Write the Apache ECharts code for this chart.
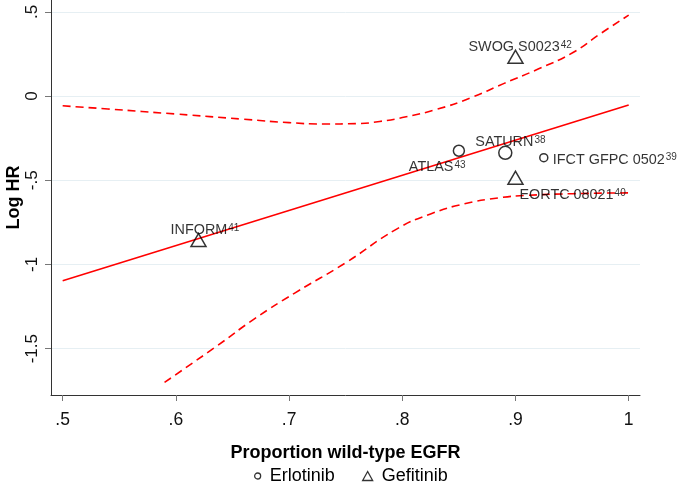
<!DOCTYPE html>
<html><head><meta charset="utf-8">
<script src="https://cdn.jsdelivr.net/npm/echarts@6/dist/echarts.min.js"></script>
<style>html,body{margin:0;padding:0;background:#fff}#c{width:679px;height:487px}</style>
</head><body><div id="c"></div>
<script>
// ---- data ----
const erlotinibStudies = ['ATLAS', 'SATURN', 'IFCT GFPC 0502'];
const erlotinibRefs = ['43', '38', '39'];
const erlotinibX = [0.850, 0.891, 0.925];
const erlotinibY = [-0.325, -0.337, -0.366];

const gefitinibStudies = ['SWOG S0023', 'EORTC 08021', 'INFORM'];
const gefitinibRefs = ['42', '40', '41'];
const gefitinibX = [0.900, 0.900, 0.620];
const gefitinibY = [0.233, -0.485, -0.855];

const fitX = [0.5, 1.0];
const fitY = [-1.097, -0.053];

const ciUpperX = [0.5, 0.54, 0.6, 0.66, 0.7, 0.73, 0.76, 0.78, 0.8, 0.83, 0.86, 0.89, 0.92, 0.95, 0.975, 1.0];
const ciUpperY = [-0.058, -0.077, -0.107, -0.138, -0.158, -0.166, -0.164, -0.151, -0.128, -0.080, -0.012, 0.075, 0.160, 0.255, 0.370, 0.480];

const ciLowerX = [0.59, 0.635, 0.67, 0.705, 0.75, 0.795, 0.825, 0.855, 0.885, 0.91, 0.95, 1.0];
const ciLowerY = [-1.700, -1.490, -1.320, -1.170, -0.990, -0.790, -0.700, -0.640, -0.605, -0.590, -0.580, -0.575];

const xTicks = [0.5, 0.6, 0.7, 0.8, 0.9, 1.0];
const xTickLabels = ['.5', '.6', '.7', '.8', '.9', '1'];
const yTicks = [0.5, 0, -0.5, -1, -1.5];
const yTickLabels = ['.5', '0', '-.5', '-1', '-1.5'];

// ---- styles (not data) ----
const FONT = 'Liberation Sans, Arial, Helvetica, sans-serif';
const RED = '#ff0000';
const markerStyle = {
  'ATLAS': {size: 11, offset: [-50, 16]},
  'SATURN': {size: 13, offset: [-30, -11]},
  'IFCT GFPC 0502': {size: 8, offset: [9, 2]},
  'SWOG S0023': {size: [15, 13], offset: [-47, -10]},
  'EORTC 08021': {size: [15, 13], offset: [4, 17.5]},
  'INFORM': {size: [15, 13], offset: [-28, -10]}
};

function pick(ticks, labels, v) {
  for (let i = 0; i < ticks.length; i++) if (Math.abs(ticks[i] - v) < 1e-9) return labels[i];
  return '';
}
function pts(xs, ys) { return xs.map((x, i) => [x, ys[i]]); }
function studyItems(names, refs, xs, ys) {
  return names.map((n, i) => ({
    name: n, ref: refs[i], value: [xs[i], ys[i]],
    symbolSize: markerStyle[n].size,
    label: {offset: markerStyle[n].offset}
  }));
}
const labelCfg = {
  show: true, position: 'inside', align: 'left', verticalAlign: 'middle',
  color: '#000',
  formatter: p => '{a|' + p.data.name + '}{s|' + p.data.ref + '}',
  rich: {
    a: {fontSize: 14.4, fontFamily: FONT, color: '#000', lineHeight: 16},
    s: {fontSize: 10, fontFamily: FONT, color: '#000', verticalAlign: 'top', padding: [1, 0, 0, 1]}
  }
};
const hollow = {color: 'rgba(0,0,0,0)', borderColor: '#000', borderWidth: 1.5};

const chart = echarts.init(document.getElementById('c'), null, {renderer: 'canvas'});
chart.setOption({
  animation: false,
  backgroundColor: '#fff',
  grid: {left: 51, right: 39, top: 0, bottom: 92, containLabel: false, outerBoundsMode: 'none'},
  xAxis: {
    type: 'value', min: 0.4897, max: 1.010,
    axisLine: {show: true, onZero: false, lineStyle: {color: '#333', width: 1}},
    axisTick: {show: true, length: 6, customValues: xTicks, lineStyle: {color: '#777'}},
    axisLabel: {customValues: xTicks, formatter: v => pick(xTicks, xTickLabels, v),
      fontSize: 17.5, fontFamily: FONT, color: '#111', margin: 16},
    splitLine: {show: false},
    name: 'Proportion wild-type EGFR', nameLocation: 'middle', nameGap: 49,
    nameTextStyle: {fontSize: 18, fontWeight: 'bold', fontFamily: FONT, color: '#000'}
  },
  yAxis: {
    type: 'value', min: -1.775, max: 0.570,
    axisLine: {show: true, onZero: false, lineStyle: {color: '#333', width: 1}},
    axisTick: {show: true, length: 6, customValues: yTicks, lineStyle: {color: '#777'}},
    axisLabel: {customValues: yTicks, formatter: v => pick(yTicks, yTickLabels, v),
      rotate: 90, fontSize: 17, fontFamily: FONT, color: '#111', margin: 10},
    splitLine: {show: true, lineStyle: {color: '#e6eff3', width: 1}},
    name: 'Log HR', nameLocation: 'middle', nameGap: 28, nameRotate: 90, nameMoveOverlap: false,
    nameTextStyle: {fontSize: 18, fontWeight: 'bold', fontFamily: FONT, color: '#000'}
  },
  legend: [
    {data: ['Erlotinib'], left: 249, top: 462, itemWidth: 6, itemHeight: 6,
     icon: 'circle', itemStyle: {color: 'rgba(0,0,0,0)', borderColor: '#000', borderWidth: 1.3},
     textStyle: {fontSize: 18, fontFamily: FONT, color: '#000', padding: [0, 0, 0, 4]}},
    {data: ['Gefitinib'], left: 357, top: 462, itemWidth: 10, itemHeight: 9,
     icon: 'triangle', itemStyle: {color: 'rgba(0,0,0,0)', borderColor: '#000', borderWidth: 1.3},
     textStyle: {fontSize: 18, fontFamily: FONT, color: '#000', padding: [0, 0, 0, 4]}}
  ],
  series: [
    {name: 'fit', type: 'line', data: pts(fitX, fitY), showSymbol: false, silent: true,
     lineStyle: {color: RED, width: 1.6}, z: 2},
    {name: 'ciUpper', type: 'line', data: pts(ciUpperX, ciUpperY), showSymbol: false, silent: true,
     smooth: 0.5, lineStyle: {color: RED, width: 1.6, type: [8, 5]}, z: 2},
    {name: 'ciLower', type: 'line', data: pts(ciLowerX, ciLowerY), showSymbol: false, silent: true,
     smooth: 0.5, lineStyle: {color: RED, width: 1.6, type: [8, 5]}, z: 2},
    {name: 'Erlotinib', type: 'scatter', symbol: 'circle', itemStyle: hollow,
     data: studyItems(erlotinibStudies, erlotinibRefs, erlotinibX, erlotinibY),
     label: labelCfg, z: 3},
    {name: 'Gefitinib', type: 'scatter', symbol: 'triangle', itemStyle: hollow,
     data: studyItems(gefitinibStudies, gefitinibRefs, gefitinibX, gefitinibY),
     label: labelCfg, z: 3}
  ]
});
</script>
</body></html>
